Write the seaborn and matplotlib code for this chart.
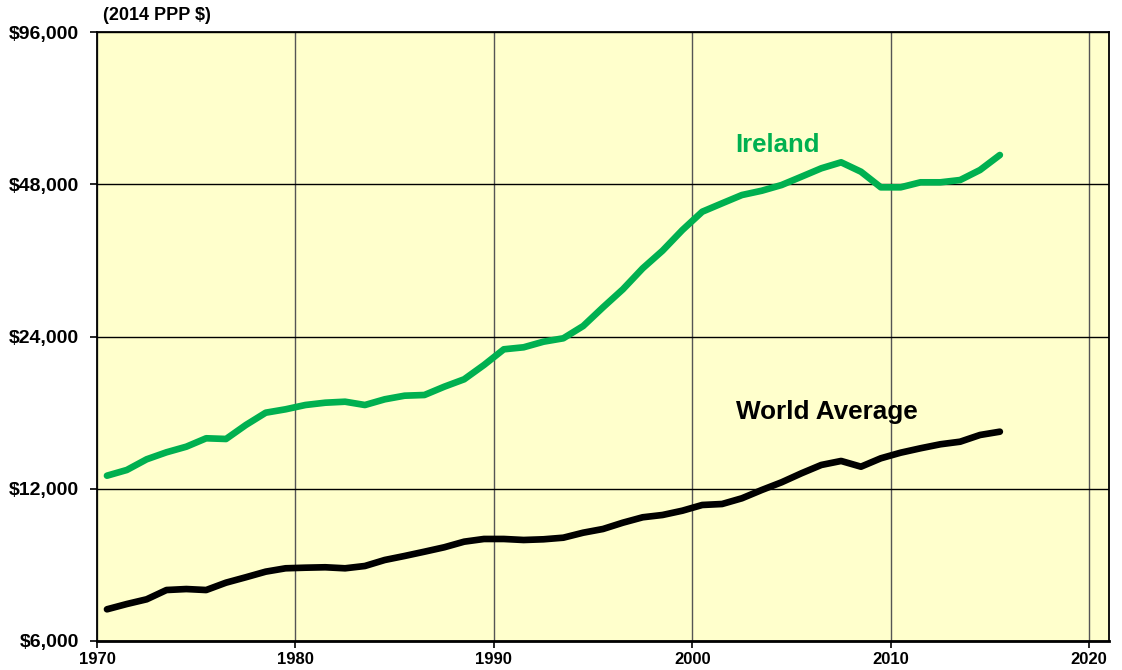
import numpy as np
import pandas as pd
import matplotlib
matplotlib.use("Agg")
import matplotlib.pyplot as plt
import seaborn as sns

sns.set_style("white")
plt.rcParams["font.family"] = ["Liberation Sans", "DejaVu Sans"]
plt.rcParams["font.weight"] = "bold"
plt.rcParams["text.color"] = "black"

# GDP per capita, 2014 PPP $
years = list(range(1970, 2016))
ireland = [12735, 13070, 13722, 14167, 14533, 15100, 15052, 16042, 16965, 17229,
           17570, 17755, 17836, 17570, 18032, 18331, 18389, 19097, 19751, 21079,
           22642, 22850, 23440, 23806, 25173, 27412, 29753, 32738, 35471, 38972,
           42358, 44010, 45705, 46607, 47836, 49680, 51616, 53046, 50822, 47338,
           47338, 48428, 48428, 48937, 51218, 54838]
world = [6931, 7100, 7254, 7567, 7601, 7567, 7825, 8020, 8227, 8354,
         8377, 8393, 8354, 8442, 8676, 8836, 9010, 9193, 9430, 9547,
         9547, 9503, 9533, 9603, 9824, 9991, 10282, 10538, 10649, 10859,
         11145, 11195, 11490, 11932, 12358, 12875, 13372, 13618, 13268, 13784,
         14141, 14428, 14693, 14867, 15328, 15560]
y_ticks = [6000, 12000, 24000, 48000, 96000]
x_ticks = [1970, 1980, 1990, 2000, 2010, 2020]

df = pd.DataFrame({
    "year": years * 2,
    "gdp": ireland + world,
    "region": ["Ireland"] * len(years) + ["World Average"] * len(years),
})
df["x"] = df["year"] + 0.5  # mid-year

fig = plt.figure(figsize=(11.22, 6.70), dpi=100)
ax = fig.add_axes([0.0865, 0.0433, 0.9019, 0.9089])
ax.set_facecolor("#FFFFCC")

sns.lineplot(data=df, x="x", y="gdp", hue="region",
             palette={"Ireland": "#00B050", "World Average": "#000000"},
             linewidth=4.8, legend=False, ax=ax, solid_capstyle="round")

ax.set_yscale("log", base=2)
ax.set_ylim(6000, 96000)
ax.set_xlim(1970, 2021)
ax.set_yticks(y_ticks)
ax.set_yticklabels([f"${v:,}" for v in y_ticks], fontsize=14, fontweight="bold", color="black")
ax.minorticks_off()
ax.set_xticks(x_ticks)
ax.set_xticklabels([str(v) for v in x_ticks], fontsize=12, fontweight="bold", color="black")
ax.tick_params(axis="y", direction="out", length=5, width=1.2, color="black", pad=8, left=True)
ax.tick_params(axis="x", direction="out", length=5, width=1.2, color="black", pad=3, bottom=True)

ax.yaxis.grid(True, color="black", linewidth=1.0)
ax.xaxis.grid(True, color="#555555", linewidth=1.0)
ax.set_axisbelow(True)
for s in ax.spines.values():
    s.set_color("black")
    s.set_linewidth(1.3)
ax.spines["bottom"].set_linewidth(2)

ax.set_xlabel("")
ax.set_ylabel("")

ax.text(2004.3, 57400, "Ireland", color="#00B050", fontsize=18.5, fontweight="bold", ha="center", va="center")
ax.text(2006.76, 17017, "World Average", color="black", fontsize=18.8, fontweight="bold", ha="center", va="center")
fig.text(103 / 1122, 1 - 16 / 670, "(2014 PPP $)", color="black", fontsize=13, fontweight="bold", ha="left", va="center")

fig.savefig("out.png", dpi=100, facecolor="white")
